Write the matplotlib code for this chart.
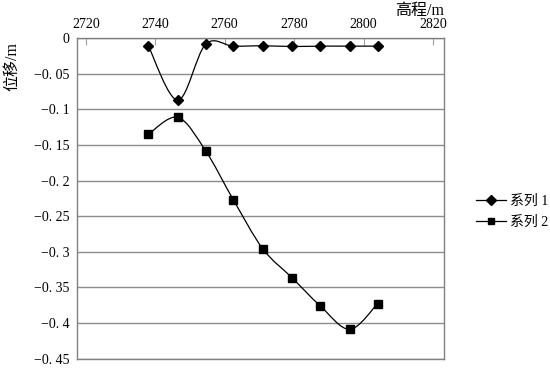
import numpy as np
import matplotlib.pyplot as plt
from matplotlib.path import Path
from matplotlib.patches import PathPatch
from matplotlib.lines import Line2D
from matplotlib.ticker import FuncFormatter

plt.rcParams['font.family'] = ['Liberation Serif', 'Noto Sans CJK SC']
plt.rcParams['axes.unicode_minus'] = True

# elevation (m) and displacement (m)
elevation = [2738, 2746.5, 2754.5, 2762.5, 2771, 2779.5, 2787.5, 2796, 2804]
series1 = [-0.0105, -0.087, -0.0085, -0.011, -0.0105, -0.0115, -0.011, -0.011, -0.011]
series2 = [-0.135, -0.111, -0.158, -0.227, -0.296, -0.337, -0.376, -0.409, -0.373]
names = ['系列 1', '系列 2']
markers = ['D', 's']
xticks = [2720, 2740, 2760, 2780, 2800, 2820]
yticks = [0, -0.05, -0.1, -0.15, -0.2, -0.25, -0.3, -0.35, -0.4, -0.45]


def smooth_path(xs, ys):
    # excel-style smoothed line: cubic bezier through the points
    pts = np.column_stack([xs, ys])
    n = len(pts)
    verts = [pts[0]]
    codes = [Path.MOVETO]
    for i in range(n - 1):
        p0 = pts[max(i - 1, 0)]
        p1 = pts[i]
        p2 = pts[i + 1]
        p3 = pts[min(i + 2, n - 1)]
        c1 = p1 + (p2 - p0) / 6
        c2 = p2 - (p3 - p1) / 6
        verts += [c1, c2, p2]
        codes += [Path.CURVE4] * 3
    return Path(verts, codes)


def ylab(v, pos):
    if v == 0:
        return '0'
    s = f'{abs(v):g}'.replace('.', '. ')
    return '\u2212' + s


fig = plt.figure(figsize=(5.5, 3.89), dpi=100)
ax = fig.add_axes([0.1395, 0.0784, 0.6675, 0.8231])

for ys, m in zip([series1, series2], markers):
    ax.add_patch(PathPatch(smooth_path(elevation, ys), fill=False,
                           edgecolor='black', lw=0.9, zorder=3))
    ax.plot(elevation, ys, ls='none', marker=m, color='black',
            markersize=5 if m == 'D' else 5.2, zorder=4)

ax.set_xlim(2717.4, 2823.1)
ax.set_ylim(-0.45, 0)
ax.xaxis.tick_top()
ax.set_xticks(xticks)
ax.set_yticks(yticks)
ax.yaxis.set_major_formatter(FuncFormatter(ylab))
ax.tick_params(axis='x', direction='in', length=5, color='#a0a0a0', labelsize=10, pad=5)
ax.tick_params(axis='y', length=0, labelsize=10, pad=5)
ax.grid(axis='y', color='#8c8c8c', lw=1)
ax.set_axisbelow(True)
for s in ax.spines.values():
    s.set_color('#808080')
    s.set_linewidth(1)

fig.text(0.022, 0.83, '位移/m', rotation=90, ha='center', va='center', fontsize=11.5)
fig.text(0.763, 0.972, '高程/m', ha='center', va='center', fontsize=11.5)

handles = [Line2D([], [], color='black', lw=0.9, marker=m, markersize=5) for m in markers]
fig.legend(handles, names, loc='center left', bbox_to_anchor=(0.865, 0.456),
           frameon=False, fontsize=10, handlelength=2.15, handletextpad=0.3,
           labelspacing=0.6, borderpad=0, borderaxespad=0)

fig.savefig('out.png', dpi=100)
